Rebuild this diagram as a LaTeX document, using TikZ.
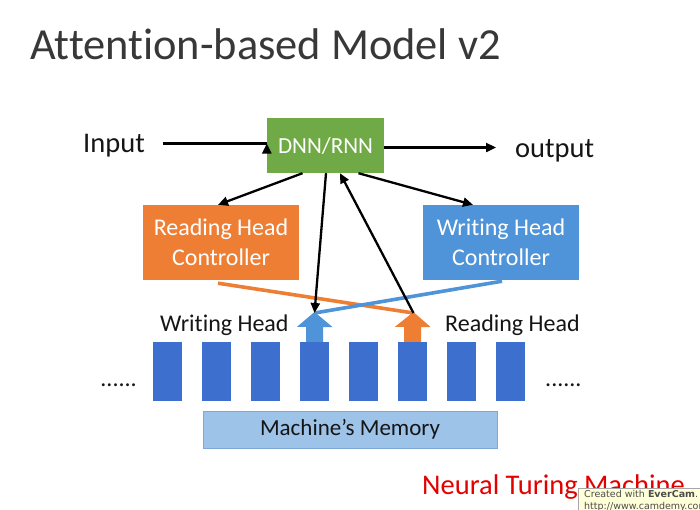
\documentclass[tikz,border=0pt]{standalone}
\usepackage{fontspec}
\setmainfont[Ligatures=NoCommon]{Carlito}
\newfontfamily\tipfont{DejaVu Sans}
\usetikzlibrary{arrows.meta}
\definecolor{dnngreen}{HTML}{6FAA46}
\definecolor{rorange}{HTML}{EE7E33}
\definecolor{wblue}{HTML}{4F93D8}
\definecolor{cellblue}{HTML}{3D6FCE}
\definecolor{membox}{HTML}{9DC3E8}
\definecolor{memborder}{HTML}{7FA8D8}
\definecolor{txt}{HTML}{151515}
\definecolor{tipyellow}{HTML}{FFFFD8}
\tikzset{
  box/.style={inner sep=0pt, text=white, align=center, font=\fontsize{24}{30}\selectfont},
  cell/.style={fill=cellblue, minimum width=29pt, minimum height=59pt, inner sep=0pt},
  arr/.style={line width=2.3pt, -{Triangle[length=10pt,width=9pt]}},
  lbl/.style={inner sep=0pt, text=txt, font=\fontsize{24}{28}\selectfont},
  big/.style={inner sep=0pt, text=txt, font=\fontsize{28.5}{32}\selectfont}
}
\begin{document}
\begin{tikzpicture}[x=1pt,y=-1pt]
\useasboundingbox[fill=white] (0,0) rectangle (700,509);
% title
\node[anchor=base west, inner sep=0pt, text=txt!85, font=\fontsize{44.4}{50}\selectfont] (title) at (30,59) {Attention-based Model v2};
% top row
\node[big, anchor=base west] (in) at (83,152) {Input};
\node[big, anchor=base west] (out) at (515,157) {output};
\node[box, fill=dnngreen, minimum width=117pt, minimum height=55pt, font=\fontsize{23}{26}\selectfont] (dnn) at (325.5,145.5) {DNN/RNN};
\coordinate (ia) at (163,143.5);
\coordinate (ob) at (496,147.5);
\draw[arr] (ia) -- (dnn.west |- ia) ++(0,0);
\draw[arr] (dnn.east |- ob) -- (ob);
% controllers
\node[box, fill=rorange, minimum width=156pt, minimum height=75pt] (rc) at (221,242.5) {Reading Head\\Controller};
\node[box, fill=wblue, minimum width=156pt, minimum height=75pt] (wc) at (501,242.5) {Writing Head\\Controller};
% memory cells
\foreach \i in {1,...,8} {
  \node[cell] (m\i) at ({167.5+49*(\i-1)},371.5) {};
}
\node[lbl, anchor=base east] (dl) at (137,386) {......};
\node[lbl, anchor=base west] (dr) at (545,386) {......};
\node[draw=memborder, line width=0.8pt, fill=membox, minimum width=294pt, minimum height=37pt, inner sep=0pt, text=txt, font=\fontsize{23}{26}\selectfont] (mem) at (350,429.5) {Machine’s Memory};
% head block arrows
\fill[wblue] ([xshift=-8.5pt]m4.north) -- ++(0,-15) -- ++(-9,0) -- (314.5,312) -- ([xshift=18pt]m4.north |- 0,327) -- ([xshift=8.5pt]m4.north |- 0,327) -- ([xshift=8.5pt]m4.north) -- cycle;
\fill[rorange] ([xshift=-8.5pt]m6.north) -- ++(0,-15) -- ++(-9,0) -- (413.5,312) -- ([xshift=18pt]m6.north |- 0,327) -- ([xshift=8.5pt]m6.north |- 0,327) -- ([xshift=8.5pt]m6.north) -- cycle;
\coordinate (wtip) at (314.5,313);
\coordinate (rtip) at (413.5,313);
\node[lbl, anchor=base west] (wl) at (160,331) {Writing Head};
\node[lbl, anchor=base west] (rl) at (445,331) {Reading Head};
% colored links
\draw[rorange, line width=3.6pt] ([xshift=-3pt,yshift=-3pt]rc.south) -- (rtip);
\draw[wblue, line width=3.6pt] ([xshift=1pt,yshift=-1pt]wc.south) -- (wtip);
% black arrows
\draw[arr] ([xshift=-23pt]dnn.south) -- ([xshift=-3pt]rc.north);
\draw[arr] ([xshift=33pt]dnn.south) -- ([xshift=-28pt]wc.north);
\draw[arr] ([xshift=0.5pt]dnn.south) -- (wtip);
\draw[arr] (rtip) -- ([xshift=14.5pt]dnn.south);
% footer
\node[anchor=base west, inner sep=0pt, text=red!90!black, font=\fontsize{28.5}{32}\selectfont] (ntm) at (422,494) {Neural Turing Machine};
\node[draw=gray!70, fill=tipyellow, anchor=north west, inner xsep=6pt, inner ysep=2pt, align=left, text=black!70, font=\tipfont\fontsize{9.5}{12}\selectfont] (ever) at (578,488) {Created with \textbf{EverCam}.\\http://www.camdemy.com};
\end{tikzpicture}
\end{document}
